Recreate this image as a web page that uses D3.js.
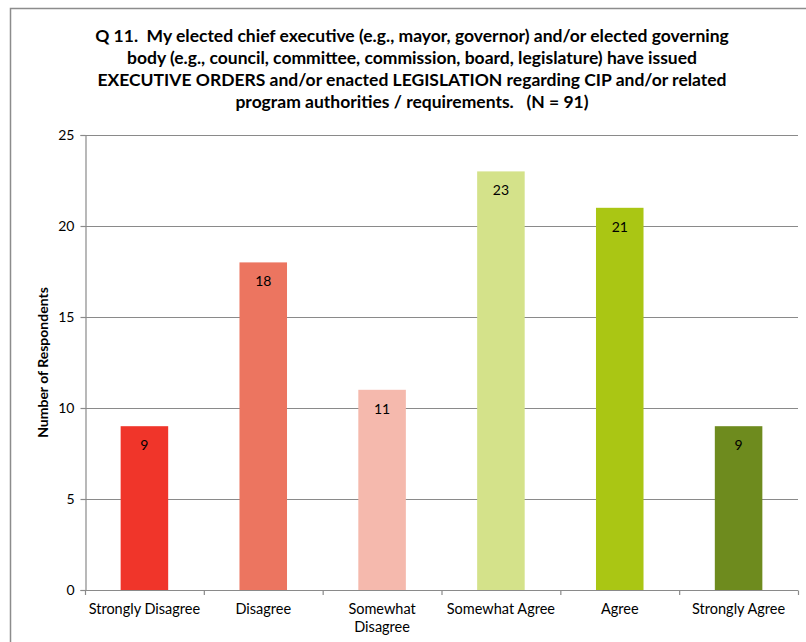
<!DOCTYPE html>
<html>
<head>
<meta charset="utf-8">
<script src="https://cdn.jsdelivr.net/npm/d3@7"></script>
<style>
  html, body { margin: 0; padding: 0; background: #fff; }
  svg { display: block; font-family: Lato, "Open Sans", sans-serif; }
  .title { white-space: pre; }
</style>
</head>
<body>
<svg id="chart" width="806" height="642"></svg>
<script>
// Survey responses for Q 11
const categories = ["Strongly Disagree", "Disagree", "Somewhat Disagree", "Somewhat Agree", "Agree", "Strongly Agree"];
const counts = [9, 18, 11, 23, 21, 9];
const barColors = ["#F0352A", "#EC7560", "#F5B9AD", "#D4E28A", "#AAC614", "#6E8B1E"];
const yTicks = [0, 5, 10, 15, 20, 25];
const titleLines = [
  "Q 11.  My elected chief executive (e.g., mayor, governor) and/or elected governing",
  "body (e.g., council, committee, commission, board, legislature) have issued",
  "EXECUTIVE ORDERS and/or enacted LEGISLATION regarding CIP and/or related",
  "program authorities / requirements.   (N = 91)"
];
const yTitle = "Number of Respondents";

const svg = d3.select("#chart");
const W = 806, H = 642;
const margin = { left: 85, right: 8, top: 135, bottom: 52 };

// Outer chart frame (open on the right and bottom edges)
svg.append("path")
  .attr("d", `M10.5,${H} L10.5,8.5 L${W},8.5`)
  .attr("fill", "none")
  .attr("stroke", "#8c8c8c")
  .attr("stroke-width", 1.5);

const x = d3.scaleBand()
  .domain(categories)
  .range([margin.left, W - margin.right])
  .paddingInner(0.6)
  .paddingOuter(0.3);

const y = d3.scaleLinear()
  .domain([0, 25])
  .range([H - margin.bottom, margin.top]);

// Horizontal gridlines
svg.append("g")
  .selectAll("line")
  .data(yTicks)
  .join("line")
  .attr("x1", margin.left)
  .attr("x2", W - margin.right)
  .attr("y1", d => Math.round(y(d)) + 0.5)
  .attr("y2", d => Math.round(y(d)) + 0.5)
  .attr("stroke", "#8a8a8a")
  .attr("stroke-width", 1.2);

// Y axis
const yAxis = svg.append("g")
  .attr("transform", `translate(${margin.left + 0.5},0)`)
  .call(d3.axisLeft(y).tickValues(yTicks).tickSize(5).tickPadding(6).tickFormat(d3.format("d")));
yAxis.select(".domain").attr("stroke", "#8a8a8a").attr("stroke-width", 1.2);
yAxis.selectAll(".tick line").attr("stroke", "#8a8a8a").attr("stroke-width", 1.2);
yAxis.selectAll(".tick text")
  .attr("font-size", 14)
  .attr("fill", "#000")
  .attr("font-family", "Lato, sans-serif");

// Bars
svg.append("g")
  .selectAll("rect")
  .data(categories)
  .join("rect")
  .attr("x", d => x(d))
  .attr("width", x.bandwidth())
  .attr("y", (d, i) => y(counts[i]))
  .attr("height", (d, i) => y(0) - y(counts[i]))
  .attr("fill", (d, i) => barColors[i]);

// Value labels inside the bars
svg.append("g")
  .selectAll("text")
  .data(categories)
  .join("text")
  .attr("x", d => x(d) + x.bandwidth() / 2)
  .attr("y", (d, i) => y(counts[i]) + 24)
  .attr("text-anchor", "middle")
  .attr("font-size", 14)
  .attr("fill", "#000")
  .text((d, i) => counts[i]);

// X axis with tick marks at category boundaries
const x0 = y(0);
const step = (W - margin.right - margin.left) / categories.length;
svg.append("line")
  .attr("x1", margin.left).attr("x2", W - margin.right)
  .attr("y1", Math.round(x0) + 0.5).attr("y2", Math.round(x0) + 0.5)
  .attr("stroke", "#8a8a8a").attr("stroke-width", 1.2);
svg.append("g")
  .selectAll("line")
  .data(d3.range(categories.length + 1))
  .join("line")
  .attr("x1", i => margin.left + 0.5 + i * step)
  .attr("x2", i => margin.left + 0.5 + i * step)
  .attr("y1", Math.round(x0) + 0.5)
  .attr("y2", Math.round(x0) + 5)
  .attr("stroke", "#8a8a8a").attr("stroke-width", 1.2);

// Category labels (wrap long ones to fit the slot)
const catLabels = svg.append("g")
  .selectAll("text")
  .data(categories)
  .join("text")
  .attr("x", d => x(d) + x.bandwidth() / 2)
  .attr("y", x0 + 24)
  .attr("text-anchor", "middle")
  .attr("font-size", 14.5)
  .attr("fill", "#000");
catLabels.each(function(d) {
  const t = d3.select(this);
  const lines = d === "Somewhat Disagree" ? ["Somewhat", "Disagree"] : [d];
  lines.forEach((ln, k) => {
    t.append("tspan")
      .attr("x", t.attr("x"))
      .attr("dy", k === 0 ? 0 : 18)
      .text(ln);
  });
});

// Y axis title
svg.append("text")
  .attr("transform", `translate(48,${(margin.top + x0) / 2}) rotate(-90)`)
  .attr("text-anchor", "middle")
  .attr("font-size", 14)
  .attr("font-weight", "bold")
  .attr("fill", "#000")
  .text(yTitle);

// Chart title
svg.append("g")
  .selectAll("text")
  .data(titleLines)
  .join("text")
  .attr("class", "title")
  .attr("x", 412)
  .attr("y", (d, i) => 42 + i * 22)
  .attr("text-anchor", "middle")
  .attr("font-size", 17.5)
  .attr("font-weight", "bold")
  .attr("fill", "#000")
  .text(d => d);
</script>
</body>
</html>
